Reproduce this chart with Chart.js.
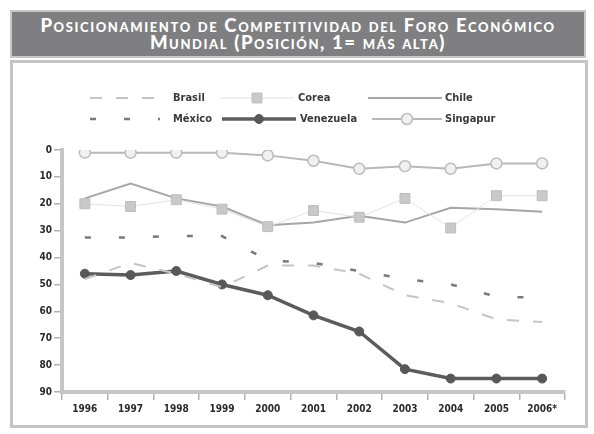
<!DOCTYPE html>
<html>
<head>
<meta charset="utf-8">
<script src="https://cdn.jsdelivr.net/npm/chart.js@4.4.1/dist/chart.umd.min.js"></script>
<style>
  body { margin: 0; width: 594px; height: 434px; background: #fff; overflow: hidden; position: relative; }
  #banner {
    position: absolute; left: 10px; top: 10px; width: 576px; height: 48px;
    background: #7f7f82; border: 2px solid #c8c8c8;
    color: #fff; text-align: center; font-family: "Lato", sans-serif; font-weight: 900;
    font-variant: small-caps; font-size: 18.5px; line-height: 17px; letter-spacing: 1.6px;
    padding-top: 5px; box-sizing: border-box; white-space: nowrap;
  }
  #frame {
    position: absolute; left: 10px; top: 60px; width: 578px; height: 368px;
    border: 3px solid #c4c4c4; box-sizing: border-box;
  }
  #wrap { position: absolute; left: 0; top: 0; width: 594px; height: 434px; }
</style>
</head>
<body>
<div id="banner">Posicionamiento de Competitividad del Foro Económico<br>Mundial (Posición, 1= más alta)</div>
<div id="frame"></div>
<div id="wrap"><canvas id="chart" width="594" height="434"></canvas></div>
<script>
// rank values (1 = best)
years = ['1996', '1997', '1998', '1999', '2000', '2001', '2002', '2003', '2004', '2005', '2006*'];
brasil = [48, 42, 46, 51, 43, 43, 46, 54, 57, 63, 64];
corea = [20, 21, 18.5, 22, 28.5, 22.5, 25, 18, 29, 17, 17];
chile = [18, 12.5, 18, 21, 28, 27, 24.5, 27, 21.5, 22, 23];
mexico = [32.5, 32.5, 32, 32, 41, 42, 45, 48, 50, 54.5, 55];
venezuela = [46, 46.5, 45, 50, 54, 61.5, 67.5, 81.5, 85, 85, 85];
singapur = [1, 1, 1, 1, 2, 4, 7, 6, 7, 5, 5];
yTicks = [0, 10, 20, 30, 40, 50, 60, 70, 80, 90];

// legend spots: [sample start, sample end, label x, y]
legendPos = [
  [90, 160, 173, 98], [220, 294, 298, 98], [368, 442, 445, 98],
  [90, 160, 173, 119], [222, 296, 300, 119], [372, 442, 445, 119]
];

customLegend = {
  id: 'customLegend',
  afterDraw(chart) {
    const ctx = chart.ctx;
    chart.data.datasets.forEach((ds, i) => {
      const p = legendPos[i];
      ctx.save();
      ctx.strokeStyle = ds.borderColor;
      ctx.lineWidth = ds.borderWidth;
      ctx.setLineDash(ds.borderDash || []);
      ctx.beginPath();
      ctx.moveTo(p[0], p[3]);
      ctx.lineTo(p[1], p[3]);
      ctx.stroke();
      ctx.setLineDash([]);
      if (ds.pointRadius > 0) {
        ctx.fillStyle = ds.pointBackgroundColor;
        ctx.strokeStyle = ds.pointBorderColor;
        ctx.lineWidth = ds.pointBorderWidth || 1;
        Chart.helpers.drawPoint(ctx, {pointStyle: ds.pointStyle, radius: ds.pointRadius, borderWidth: ctx.lineWidth, rotation: 0}, (p[0] + p[1]) / 2, p[3]);
      }
      ctx.fillStyle = '#3a3a3a';
      ctx.font = 'bold 11px "Liberation Sans Narrow", "DejaVu Sans Condensed", sans-serif';
      ctx.textBaseline = 'middle';
      ctx.fillText(ds.label, p[2], p[3]);
      ctx.restore();
    });
  }
};

chartdata = {
  labels: years,
  datasets: [
    { label: 'Brasil', data: brasil, borderColor: '#c4c4c4', borderWidth: 2, borderDash: [12, 14], pointRadius: 0, tension: 0 },
    { label: 'Corea', data: corea, borderColor: '#e2e2e2', borderWidth: 1, pointStyle: 'rect', pointRadius: 7,
      pointBackgroundColor: '#c9c9c9', pointBorderColor: '#bdbdbd', pointBorderWidth: 1 },
    { label: 'Chile', data: chile, borderColor: '#a6a6a6', borderWidth: 2, pointRadius: 0 },
    { label: 'México', data: mexico, borderColor: '#7a7a7a', borderWidth: 2.5, borderDash: [6, 28], pointRadius: 0 },
    { label: 'Venezuela', data: venezuela, borderColor: '#5c5c5c', borderWidth: 3.5, pointStyle: 'circle', pointRadius: 4.5,
      pointBackgroundColor: '#585858', pointBorderColor: '#585858', pointBorderWidth: 1 },
    { label: 'Singapur', data: singapur, borderColor: '#b8b8b8', borderWidth: 2, pointStyle: 'circle', pointRadius: 5.5,
      pointBackgroundColor: '#f0f0f0', pointBorderColor: '#bcbcbc', pointBorderWidth: 1.5 }
  ]
};

config = {
  type: 'line',
  data: chartdata,
  options: {
    responsive: false,
    animation: false,
    layout: { padding: { left: 14, right: 29, top: 150, bottom: 14 } },
    plugins: { legend: { display: false }, tooltip: { enabled: false } },
    scales: {
      x: {
        offset: true,
        grid: { display: true, drawOnChartArea: false, drawTicks: true, tickLength: 8, color: '#b0b0b0', lineWidth: 1.5, offset: true },
        border: { display: true, color: '#c6c6c6', width: 4 },
        ticks: { color: '#2a2a2a', font: { family: '"DejaVu Sans Condensed", sans-serif', weight: 'bold', size: 10 }, padding: 3, maxRotation: 0 },
        afterFit(scale) { scale.height = 28; }
      },
      y: {
        reverse: true, min: 0, max: 90,
        afterBuildTicks(scale) { scale.ticks = yTicks.map(v => ({ value: v })); },
        grid: { display: true, drawOnChartArea: false, drawTicks: true, tickLength: 8, color: '#b0b0b0', lineWidth: 1.5 },
        border: { display: true, color: '#c6c6c6', width: 4 },
        ticks: { color: '#2a2a2a', font: { family: '"DejaVu Sans Condensed", sans-serif', weight: 'bold', size: 10 }, padding: 2 },
        afterFit(scale) { scale.width = 48; }
      }
    }
  },
  plugins: [customLegend]
};

myChart = new Chart(document.getElementById('chart'), config);
</script>
</body>
</html>
